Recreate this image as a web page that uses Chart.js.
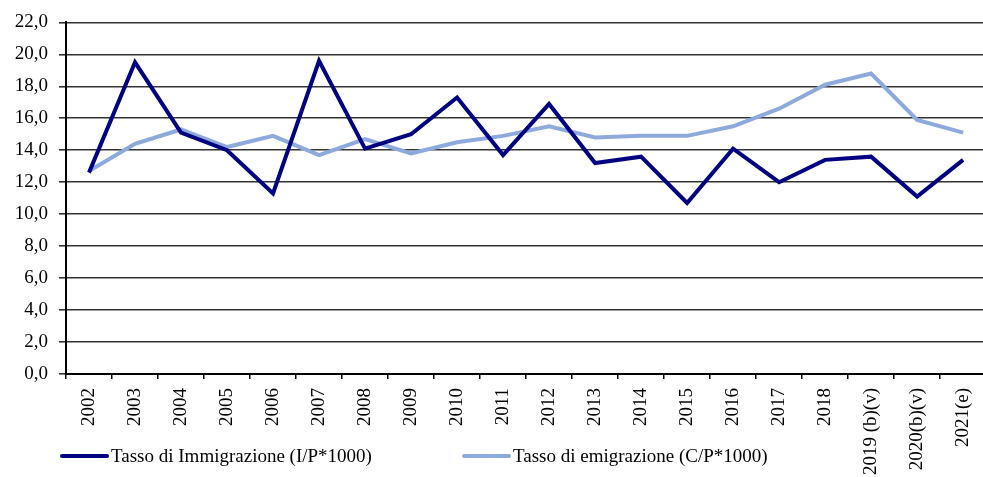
<!DOCTYPE html>
<html lang="it">
<head>
  <meta charset="UTF-8">
  <title>Tasso di immigrazione ed emigrazione</title>
  <script src="https://cdn.jsdelivr.net/npm/chart.js"></script>
  <style>
    html, body {
      margin: 0;
      padding: 0;
      background: #fff;
      overflow: hidden;
      width: 983px;
      height: 477px;
    }

    .wrap {
      position: absolute;
      left: 0;
      top: 0;
      width: 995px;
      height: 477px;
    }

    .legend {
      position: absolute;
      top: 445px;
      font-family: "Liberation Serif", "Times New Roman", serif;
      font-size: 19px;
      color: #000;
      display: flex;
      align-items: center;
      white-space: nowrap;
    }

    .legend .swatch {
      display: inline-block;
      width: 49px;
      height: 4px;
      margin-right: 2px;
      border-radius: 2px;
    }
  </style>
</head>
<body>
  <div class="wrap">
    <canvas id="tassiChart" width="995" height="477"></canvas>
  </div>
  <div class="legend" style="left: 60px;"><span class="swatch" style="background:#000080"></span><span id="leg0"></span></div>
  <div class="legend" style="left: 462px;"><span class="swatch" style="background:#8eaadc"></span><span id="leg1"></span></div>

  <script>
    const anni = ['2002', '2003', '2004', '2005', '2006', '2007', '2008', '2009', '2010', '2011',
      '2012', '2013', '2014', '2015', '2016', '2017', '2018', '2019 (b)(v)', '2020(b)(v)', '2021(e)'];

    const immigrazione = [12.6, 19.5, 15.1, 14.0, 11.3, 19.6, 14.1, 15.0, 17.3, 13.7,
      16.9, 13.2, 13.6, 10.7, 14.1, 12.0, 13.4, 13.6, 11.1, 13.4];

    const emigrazione = [12.7, 14.4, 15.3, 14.2, 14.9, 13.7, 14.7, 13.8, 14.5, 14.9,
      15.5, 14.8, 14.9, 14.9, 15.5, 16.6, 18.1, 18.8, 15.9, 15.1];

    const serieNomi = ['Tasso di Immigrazione (I/P*1000)', 'Tasso di emigrazione (C/P*1000)'];

    document.getElementById('leg0').textContent = serieNomi[0];
    document.getElementById('leg1').textContent = serieNomi[1];

    const fontSerif = 'Liberation Serif, Times New Roman, serif';

    const ctx = document.getElementById('tassiChart').getContext('2d');

    new Chart(ctx, {
      type: 'line',
      data: {
        labels: anni,
        datasets: [
          {
            label: serieNomi[0],
            data: immigrazione,
            borderColor: '#000080',
            borderWidth: 4,
            pointRadius: 0,
            tension: 0,
            fill: false
          },
          {
            label: serieNomi[1],
            data: emigrazione,
            borderColor: '#8eaadc',
            borderWidth: 4,
            pointRadius: 0,
            tension: 0,
            fill: false
          }
        ]
      },
      options: {
        responsive: false,
        animation: false,
        layout: {
          padding: { top: 21, right: 3, left: 0, bottom: 0 }
        },
        plugins: {
          legend: { display: false },
          tooltip: { enabled: false }
        },
        scales: {
          x: {
            offset: true,
            grid: {
              offset: true,
              drawOnChartArea: false,
              drawTicks: true,
              tickLength: 5,
              color: '#000',
              lineWidth: 1.5
            },
            border: { color: '#000', width: 2 },
            ticks: {
              autoSkip: false,
              minRotation: 90,
              maxRotation: 90,
              padding: 9,
              color: '#000',
              font: { family: fontSerif, size: 19 }
            },
            afterFit: function (scale) {
              scale.height = 103;
            }
          },
          y: {
            min: 0,
            max: 22,
            grid: {
              color: '#333',
              lineWidth: 1.6,
              tickLength: 7
            },
            border: { color: '#000', width: 2 },
            ticks: {
              stepSize: 2,
              padding: 11,
              color: '#000',
              font: { family: fontSerif, size: 19 },
              callback: function (v) {
                return v.toFixed(1).replace('.', ',');
              }
            },
            afterFit: function (scale) {
              scale.width = 66;
            }
          }
        }
      }
    });
  </script>
</body>
</html>
